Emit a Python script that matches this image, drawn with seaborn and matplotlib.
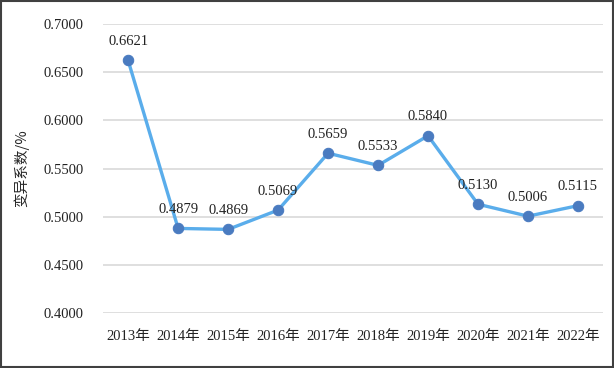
import pandas as pd
import matplotlib.pyplot as plt
import seaborn as sns
from matplotlib.patches import Rectangle

# data
years = ['2013年', '2014年', '2015年', '2016年', '2017年',
         '2018年', '2019年', '2020年', '2021年', '2022年']
cv = [0.6621, 0.4879, 0.4869, 0.5069, 0.5659,
      0.5533, 0.5840, 0.5130, 0.5006, 0.5115]
yticks = [0.40, 0.45, 0.50, 0.55, 0.60, 0.65, 0.70]

df = pd.DataFrame({'year': years, 'cv': cv})
df['x'] = range(len(df))

sns.set_style('white')
plt.rcParams['font.family'] = ['Liberation Serif', 'Noto Sans CJK SC']

fig = plt.figure(figsize=(6.14, 3.68), dpi=100)
ax = fig.add_axes([0.168, 0.149, 0.814, 0.786])

sns.lineplot(data=df, x='x', y='cv', ax=ax, color='#5AADEB', linewidth=2.4,
             marker='o', markersize=7.5, markerfacecolor='#4A7BC0',
             markeredgecolor='#4A7BC0', zorder=3)

# data labels
for xi, yi in zip(df['x'], df['cv']):
    ax.annotate(f'{yi:.4f}', (xi, yi), xytext=(0, 9), textcoords='offset points',
                ha='center', va='bottom', fontsize=10.5, color='#222222')

ax.set_xlim(-0.5, len(years) - 0.5)
ax.set_ylim(0.40, 0.70)
ax.set_yticks(yticks)
ax.set_yticklabels([f'{t:.4f}' for t in yticks], fontsize=10.5)
ax.set_xticks(df['x'])
ax.set_xticklabels(years, fontsize=10.5)
ax.tick_params(axis='both', length=0, pad=14, colors='#222222')
ax.tick_params(axis='x', pad=12)
ax.grid(axis='y', color='#D9D9D9', linewidth=1.2)
ax.set_axisbelow(True)
for s in ax.spines.values():
    s.set_visible(False)

ax.set_xlabel('')
ax.set_ylabel('变异系数/%', fontsize=10.5, family=['Noto Sans CJK SC'], labelpad=10)

# outer border
fig.patches.append(Rectangle((0.002, 0.003), 0.996, 0.994, transform=fig.transFigure,
                             fill=False, edgecolor='#404040', linewidth=1.5))

plt.savefig('out.png', dpi=100)
